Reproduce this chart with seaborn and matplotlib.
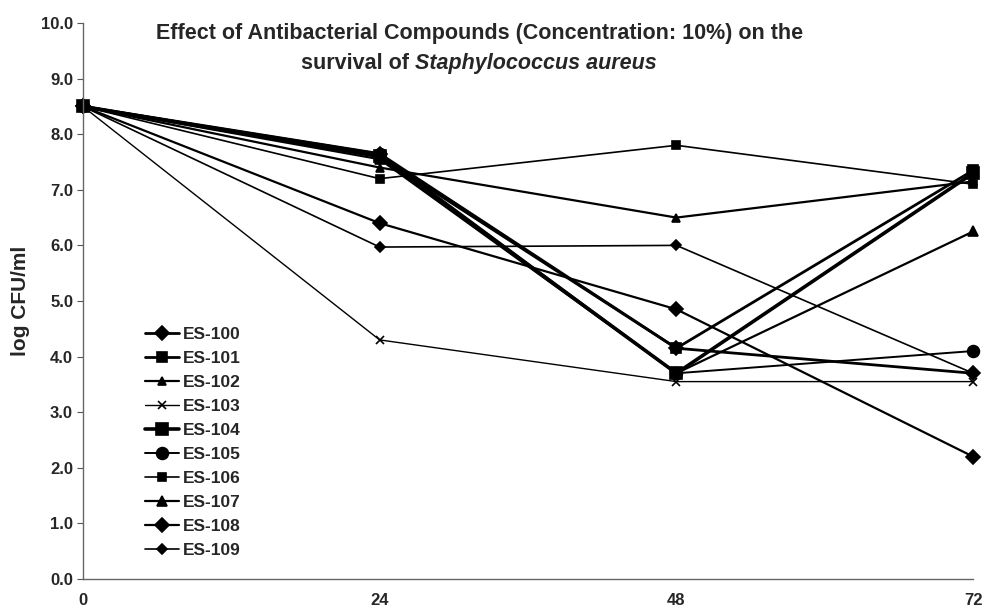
import matplotlib
matplotlib.use('Agg')
import matplotlib.pyplot as plt
import seaborn as sns
import pandas as pd

sns.set_style('ticks')
plt.rcParams['font.family'] = ['Liberation Sans', 'DejaVu Sans']

# sampling times (h) and log CFU/ml per compound
hours = [0, 24, 48, 72]
es100 = [8.5, 7.65, 4.15, 3.7]
es101 = [8.5, 7.6, 4.15, 7.35]
es102 = [8.5, 7.4, 6.5, 7.15]
es103 = [8.5, 4.3, 3.55, 3.55]
es104 = [8.5, 7.6, 3.7, 7.3]
es105 = [8.5, 7.65, 3.7, 4.1]
es106 = [8.5, 7.2, 7.8, 7.1]
es107 = [8.5, 7.55, 3.7, 6.25]
es108 = [8.5, 6.4, 4.85, 2.2]
es109 = [8.5, 5.97, 6.0, 3.7]
names = ['ES-100', 'ES-101', 'ES-102', 'ES-103', 'ES-104',
         'ES-105', 'ES-106', 'ES-107', 'ES-108', 'ES-109']
series = [es100, es101, es102, es103, es104, es105, es106, es107, es108, es109]

# marker, marker size, line width for each compound
styles = {
    'ES-100': ('D', 7, 2.0),
    'ES-101': ('s', 7, 2.0),
    'ES-102': ('^', 6, 1.6),
    'ES-103': ('x', 6, 1.0),
    'ES-104': ('s', 8, 2.6),
    'ES-105': ('o', 8.5, 1.4),
    'ES-106': ('s', 5.5, 1.2),
    'ES-107': ('^', 7, 1.6),
    'ES-108': ('D', 7, 1.6),
    'ES-109': ('D', 5, 1.2),
}

rows = []
for nm, vals in zip(names, series):
    for h, v in zip(hours, vals):
        rows.append([nm, h, v])
df = pd.DataFrame(rows, columns=['compound', 'hour', 'logcfu'])

fig = plt.figure(figsize=(9.86, 6.13), dpi=100)
ax = fig.add_axes([0.084, 0.0555, 0.903, 0.907])
for nm in names:
    mk, ms, lw = styles[nm]
    sns.lineplot(data=df[df['compound'] == nm], x='hour', y='logcfu', color='black',
                 marker=mk, markersize=ms, linewidth=lw, markeredgewidth=1.2,
                 markeredgecolor='black', markerfacecolor='black',
                 label=nm, ax=ax, clip_on=False)

ax.set_xlim(0, 72)
ax.set_ylim(0, 10)
ax.set_xticks(hours)
ax.set_yticks([i for i in range(11)])
ax.set_yticklabels(['%.1f' % i for i in range(11)], fontweight='bold', fontsize=12)
ax.set_xticklabels([str(h) for h in hours], fontweight='bold', fontsize=12)
ax.tick_params(axis='x', length=0, pad=10)
ax.tick_params(axis='y', length=4, width=0.8, color='#555555', pad=3)
for sp in ['top', 'right']:
    ax.spines[sp].set_visible(False)
for sp in ['left', 'bottom']:
    ax.spines[sp].set_color('#666666')
    ax.spines[sp].set_linewidth(1.0)
ax.set_xlabel('')
ax.set_ylabel('log CFU/ml', fontweight='bold', fontsize=15, labelpad=8)

# title: second line mixes bold and bold italic
fig.text(0.486, 0.946, 'Effect of Antibacterial Compounds (Concentration: 10%) on the',
         ha='center', va='center', fontweight='bold', fontsize=15.5)
fig.canvas.draw()
t1 = fig.text(0.0, 0.897, 'survival of ', ha='left', va='center', fontweight='bold', fontsize=15.5)
t2 = fig.text(0.0, 0.897, 'Staphylococcus aureus', ha='left', va='center',
              fontweight='bold', fontstyle='italic', fontsize=15.5)
r = fig.canvas.get_renderer()
w1 = t1.get_window_extent(r).width / fig.bbox.width
w2 = t2.get_window_extent(r).width / fig.bbox.width
x0 = 0.486 - (w1 + w2) / 2
t1.set_x(x0)
t2.set_x(x0 + w1)

leg = ax.legend(loc='upper left', bbox_to_anchor=(0.052, 0.482), frameon=False,
                prop={'weight': 'bold', 'size': 12.5}, handlelength=2.0,
                handletextpad=0.2, labelspacing=0.51)

fig.savefig('out.png', dpi=100, facecolor='white')
